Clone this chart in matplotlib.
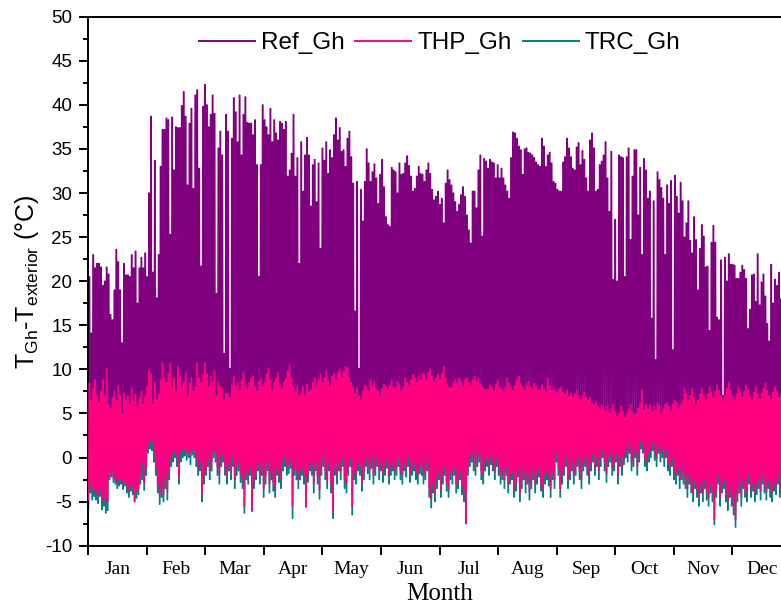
import numpy as np
import matplotlib
matplotlib.use("Agg")
import matplotlib.pyplot as plt
from matplotlib.lines import Line2D

plt.rcParams['font.family'] = ['Liberation Sans', 'DejaVu Sans']
plt.rcParams['mathtext.default'] = 'regular'
plt.rcParams['axes.unicode_minus'] = False

# daily maximum of T_Gh - T_exterior, reference greenhouse
ref_max = [
    20.5, 14.1, 23.0, 21.5, 22.0, 22.0, 21.6, 19.5, 20.0, 21.6,
    20.8, 16.2, 15.6, 19.0, 23.6, 22.2, 19.0, 13.0, 22.0, 20.7,
    20.7, 20.5, 23.0, 21.5, 23.4, 17.5, 21.5, 22.7, 21.5, 23.2,
    20.5, 30.0, 38.7, 21.0, 33.7, 18.1, 23.0, 33.0, 37.2, 37.2,
    38.5, 38.3, 25.3, 38.6, 32.6, 37.5, 37.4, 37.4, 39.9, 41.5,
    38.7, 30.9, 37.9, 39.6, 30.5, 41.1, 41.7, 32.8, 21.7, 39.8,
    42.3, 40.0, 37.5, 38.9, 41.1, 39.0, 18.6, 35.1, 37.0, 34.3,
    11.8, 38.9, 37.0,
    10.1, 36.2, 40.8, 39.2, 35.8, 41.1, 34.3, 38.9, 40.9, 38.0,
    37.9, 37.9, 36.6, 38.3, 33.2, 20.5, 33.2, 40.0, 38.3, 37.5,
    36.6, 39.6, 35.8, 38.3, 36.8, 36.0, 38.1, 37.9, 37.2, 38.1,
    31.9, 32.6, 34.5, 38.9, 31.9, 34.0, 22.0, 35.8, 30.2, 34.3,
    36.3, 34.3, 28.5, 33.2, 33.8, 29.0, 33.4, 23.7, 35.1, 33.7,
    35.8, 32.2, 34.9, 34.0, 36.6, 38.5, 36.0, 37.4, 34.7, 34.9,
    33.0, 36.2, 37.0, 34.1, 31.1, 16.6, 31.3, 10.1, 30.4, 26.8,
    31.3, 35.0, 33.4, 31.3, 32.4, 33.3, 31.7, 28.8, 32.1, 33.8,
    30.7, 27.3, 26.4, 26.2, 32.9, 32.6, 32.4, 30.0, 33.4, 32.1,
    32.2, 33.4, 34.2, 33.1, 31.9, 30.2, 30.5, 31.9, 33.0, 32.2,
    32.1, 31.3, 32.6, 33.4, 32.2, 30.4, 29.2, 29.6, 30.2, 28.7,
    29.4, 26.6, 31.1, 32.6, 31.5, 30.9, 30.0, 29.0, 27.9, 28.7,
    29.8, 30.7, 29.6, 27.5, 25.8, 24.3, 30.2, 30.2, 28.3, 32.6,
    34.3, 25.1, 33.9, 33.6, 32.8, 33.8, 33.5, 33.4, 31.7, 33.2,
    31.7, 32.8,
    31.7, 30.9, 30.2, 29.4, 34.0, 36.9, 36.8, 36.2, 35.3, 34.9,
    32.1, 35.0, 35.1, 34.6, 34.5, 34.3, 34.0, 33.5, 33.2, 33.0,
    36.2, 35.3, 33.0, 34.3, 34.6, 33.4, 31.3, 31.1, 30.4, 30.2,
    30.2, 33.5, 34.1, 36.2, 35.1, 34.1, 32.8, 32.6, 35.2, 35.7,
    33.2, 34.8, 33.8, 31.7, 30.2, 36.0, 36.8, 35.1, 30.2, 30.4,
    33.2, 33.6, 34.3, 35.8, 31.7, 27.9, 34.7, 20.2, 27.0, 20.0,
    34.3, 34.1, 34.0, 20.5, 34.1, 35.1, 24.7, 31.9, 34.9, 34.9,
    27.5,
    32.9, 23.0, 33.9, 32.6, 29.4, 30.2, 15.8, 29.1, 11.1, 32.4,
    31.5, 30.6, 29.4, 23.0, 30.9, 28.8, 31.4, 12.2, 32.0, 29.6,
    27.7, 31.2, 29.1, 25.0, 26.6, 29.1, 24.6, 23.2, 27.3, 24.7,
    19.0, 23.7, 26.4, 25.1, 21.6, 21.7, 14.4, 24.4, 26.3, 24.4,
    15.9, 15.6, 22.4, 7.0, 22.7, 20.0, 23.1, 21.9, 21.9, 21.8,
    20.3, 20.3, 21.0, 21.8, 21.3, 20.3, 14.6, 16.8, 20.7, 20.8,
    17.7, 23.1, 17.3, 19.9, 20.8, 18.3, 15.2, 13.2, 21.9, 17.5,
    20.2,
    19.5, 21.0, 18.0, 20.5, 16.0, 19.0, 21.0, 18.5,
]

# daily maximum, greenhouse with heat pump
thp_max = [
    8.4, 6.5, 7.8, 8.8, 7.0, 6.2, 7.5, 8.8, 7.0, 10.1,
    6.0, 5.5, 6.8, 7.5, 6.5, 8.2, 7.0, 5.0, 7.3, 6.5,
    7.0, 6.0, 7.9, 6.4, 7.2, 5.5, 6.8, 7.5, 6.0, 7.0,
    8.0, 9.9, 9.5, 6.0, 8.5, 6.5, 7.2, 8.8, 10.7, 9.0,
    8.5, 9.5, 10.7, 8.0, 9.0, 7.5, 10.3, 9.2, 8.0, 8.5,
    9.6, 7.0, 8.4, 9.0, 7.5, 8.0, 10.7, 9.0, 8.5, 9.4,
    10.7, 9.5, 8.0, 9.2, 8.5, 9.8, 7.0, 8.5, 8.0, 7.8,
    6.5, 7.3, 7.3, 6.8, 8.2, 9.2, 8.0, 8.5, 7.5, 8.8,
    9.6, 8.2, 7.8, 8.5, 9.0, 9.2, 8.0, 7.5, 8.6, 9.0,
    8.0, 8.5, 9.4, 10.1, 8.8, 7.6, 8.5, 9.0, 9.6, 8.2,
    7.8, 8.6, 9.0, 9.8, 10.5, 9.0, 8.0, 7.5, 8.2, 7.0,
    7.3, 8.0, 7.0, 8.3, 7.5, 7.7, 8.5, 9.0, 8.2, 8.8,
    9.4, 8.5, 9.0, 9.8, 8.6, 8.0, 9.2, 9.5, 8.8, 9.6,
    10.0, 9.0, 9.8, 10.3, 10.2, 9.0, 8.5, 8.0, 7.2, 7.9,
    7.0, 6.5, 7.5, 8.2, 8.0, 7.5, 8.8, 8.0, 8.6, 7.8,
    7.5, 6.9, 7.8, 8.3, 8.0, 7.6, 8.2, 8.8, 8.0, 7.9,
    8.6, 8.2, 7.5, 8.0, 9.0, 8.5, 8.0, 8.8, 9.4, 9.0,
    8.5, 9.2, 8.8, 9.6, 9.4, 8.8, 9.6, 10.0, 9.2, 8.6,
    9.0, 9.4, 8.8, 9.5, 10.3, 9.0, 8.2, 7.9, 7.9, 8.5,
    8.8, 8.4, 9.0, 8.6, 8.0, 8.8, 9.0, 8.5, 8.2, 8.8,
    9.2, 8.6, 9.0, 8.4, 8.0, 7.8, 7.7, 7.7, 8.2, 8.0,
    7.5, 8.3, 8.8, 8.0, 7.8, 7.5, 8.0, 9.0, 8.4, 8.0,
    7.6, 8.2, 8.8, 9.2, 8.4, 8.0, 7.6, 8.2, 8.6, 8.0,
    7.8, 8.4, 8.0, 7.6, 7.7, 8.2, 7.8, 7.4, 9.0, 8.2,
    7.6, 8.0, 7.5, 7.3, 7.8, 8.0, 7.4, 7.2, 7.6, 7.0,
    7.3, 6.8, 7.2, 7.6, 7.0, 6.6, 7.0, 7.4, 6.8, 6.5,
    6.8, 6.2, 6.0, 6.4, 5.8, 5.5, 6.0, 5.6, 5.2, 5.8,
    5.0, 5.5, 6.0, 5.2, 4.6, 5.0, 5.8, 5.2, 4.5, 5.0,
    5.5, 6.0, 5.2, 4.8, 5.0, 5.6, 6.2, 7.7, 5.4, 6.0,
    5.5, 6.0, 5.2, 5.8, 5.4, 6.2, 5.8, 5.0, 5.5, 6.0,
    6.2, 5.8, 5.2, 6.0, 6.5, 6.2, 5.5, 6.0, 6.4, 7.9,
    7.2, 6.5, 7.0, 7.8, 6.8, 6.0, 6.5, 7.2, 7.8, 7.0,
    6.5, 7.2, 8.0, 7.4, 6.8, 7.5, 8.2, 7.6, 7.0, 6.4,
    7.0, 7.8, 8.5, 7.6, 7.0, 6.5, 7.2, 8.0, 7.4, 6.8,
    7.5, 8.2, 7.6, 7.0, 6.5, 7.4, 8.0, 7.2, 6.6, 7.3,
    7.8, 8.4, 7.6, 7.0, 6.6, 7.4, 8.0, 7.5, 6.8, 7.2,
    7.6, 8.0, 7.2, 6.8, 7.4,
]

# daily minimum, greenhouse with heat pump
thp_min = [
    -4.8, -3.0, -3.8, -3.5, -4.0, -4.2, -3.5, -5.0, -4.5, -5.0,
    -5.0, -2.0, -1.8, -2.2, -2.5, -2.8, -2.5, -2.5, -3.0, -2.6,
    -3.2, -3.8, -3.0, -3.5, -5.0, -3.8, -3.5, -2.2, -0.5, -2.8,
    -1.0, 1.5, 2.0, 1.8, 0.5, -1.0, -3.0, -4.2, -3.5, -4.2,
    -2.5, -3.8, -1.5, -0.2, 0.5, 0.8, 0.0, -2.2, 0.5, 1.0,
    1.0, 0.5, 0.8, 0.2, 1.0, 0.8, 0.0, -1.2, -0.5, -4.0,
    -2.0, -1.2, 0.0, -1.5, -0.5, 0.8, 0.5, -1.0, -2.0, 0.0,
    0.5, -1.0, -2.0, -0.5, -1.5, 0.0, -2.5, -1.0, -0.5, -1.8,
    -2.5, -5.5, -1.5, -2.0, -1.0, -6.0, -2.5, -1.5, -0.5, -2.0,
    -1.0, -3.5, -2.0, -0.5, -3.0, -1.5, -2.8, -3.5, -1.0, -1.8,
    -2.5, -0.5, 0.0, -1.0, -0.8, -0.2, -5.5, -1.0, -1.5, -2.5,
    -1.5, -1.0, -2.0, -5.6, -1.8, -0.5, -1.0, -3.0, -0.5, -2.0,
    -3.7, -1.0, 0.0, -1.5, -2.5, -0.5, -3.0, -6.0, -1.0, -2.0,
    -0.5, -1.5, 0.0, -2.5, -3.0, -1.0, 0.0, -5.5, -1.5, -2.0,
    -0.5, -1.0, -2.8, -1.5, 0.0, -0.8, -1.5, -0.2, -2.0, -1.0,
    0.0, -1.5, -0.5, -1.8, -1.0, -0.2, -2.0, -1.0, -0.5, -1.5,
    -1.0, 0.0, -1.5, -2.0, -0.5, -1.2, 0.0, -1.8, -1.0, -0.5,
    -1.5, -2.0, -0.8, -1.0, -2.0, -1.5, -0.5, -3.5, -4.7, -3.0,
    -4.0, -2.5, -1.5, -3.5, -2.0, -1.0, -2.8, -3.5, -1.5, -2.0,
    -1.0, -3.0, -2.5, -1.5, -3.2, -4.0, -7.5, -1.0, 0.0, 0.5,
    -0.5, -1.0, 0.0, 0.5, -1.5, -2.0, -0.5, 0.0, -1.0, 0.2,
    -0.5, -1.5, 0.0, -1.0, -2.0, -1.5, -2.5, -1.0, -3.0, -2.0,
    -1.5, -3.5, -2.8, -1.2, -4.0, -2.5, -1.5, -3.0, -2.0, -3.8,
    -2.5, -1.5, -3.0, -2.0, -1.2, -2.8, -3.5, -2.0, -1.5, -2.2,
    -3.5, -1.5, -2.5, 0.5, -1.0, -3.5, -2.0, -1.0, 0.0, -2.5,
    -1.5, -0.5, -2.0, -1.0, 0.0, -1.5, -2.5, -0.5, 0.0, -1.0,
    -2.0, -0.5, 0.5, -1.0, 0.0, -1.5, 0.0, 1.0, -0.5, -1.8,
    0.0, 0.5, -1.0, -0.5, 0.5, -2.0, 0.0, -1.0, 0.2, 1.0,
    0.5, 1.5, -0.5, 0.0, 1.0, -1.0, 0.5, 2.0, 1.5, 0.0,
    -0.5, 0.5, 1.0, 1.8, 0.7, 0.0, 1.5, 0.5, 1.0, 0.0,
    1.0, -0.5, -1.0, 0.0, -1.5, -2.0, -1.0, -2.5, -1.5, -2.0,
    -2.5, -3.5, -2.0, -3.0, -4.0, -2.5, -3.5, -4.5, -3.0, -4.0,
    -2.5, -3.8, -4.5, -3.0, -4.0, -7.0, -3.5, -2.0, -4.5, -3.0,
    -2.5, -4.0, -5.0, -3.5, -4.5, -5.5, -7.0, -4.0, -3.0, -4.5,
    -2.5, -3.5, -4.0, -2.0, -3.5, -2.8, -4.0, -3.2, -2.5, -3.8,
    -2.0, -3.0, -3.8, -2.5, -3.5, -4.0, -2.8, -3.2, -2.0, -3.5,
    -3.0, -2.5, -3.5, -2.8, -3.2,
]

# daily minimum, greenhouse with thermal radiant cooling
trc_min = [
    -5.9, -4.0, -4.8, -4.4, -4.8, -5.2, -4.4, -5.9, -5.5, -6.3,
    -6.0, -2.5, -2.2, -2.8, -3.0, -3.5, -3.2, -3.0, -3.6, -3.2,
    -4.0, -4.5, -3.8, -4.2, -5.0, -4.6, -4.2, -3.0, -2.5, -3.7,
    -2.0, 0.5, 1.0, 0.8, -0.5, -2.0, -4.0, -5.3, -4.5, -5.0,
    -3.5, -4.8, -2.5, -1.0, -0.5, 0.0, -1.0, -3.0, -0.5, 0.0,
    0.2, -0.3, 0.0, -0.8, 0.3, 0.0, -1.0, -2.0, -1.5, -5.0,
    -3.0, -2.0, -1.0, -2.5, -1.5, 0.0, -0.5, -2.0, -3.0, -1.0,
    -0.5, -2.0, -3.0, -1.5, -2.5, -1.0, -3.5, -2.0, -1.5, -2.8,
    -3.5, -6.3, -2.5, -3.0, -2.0, -6.1, -3.5, -2.5, -1.5, -3.0,
    -2.0, -4.5, -3.0, -1.5, -4.0, -2.5, -3.8, -4.5, -2.0, -2.8,
    -3.5, -1.5, -1.0, -2.0, -1.8, -1.2, -6.9, -2.0, -2.5, -3.5,
    -2.5, -2.0, -3.0, -5.6, -2.8, -1.5, -2.0, -4.0, -1.5, -3.0,
    -4.7, -2.0, -1.0, -2.5, -3.5, -1.5, -4.0, -6.9, -2.0, -3.0,
    -1.5, -2.5, -1.0, -3.5, -4.0, -2.0, -1.0, -6.5, -2.5, -3.0,
    -1.5, -2.0, -3.8, -2.5, -1.0, -1.8, -2.5, -1.2, -3.0, -2.0,
    -1.0, -2.5, -1.5, -2.8, -2.0, -1.2, -3.0, -2.0, -1.5, -2.5,
    -2.0, -1.0, -2.5, -3.0, -1.5, -2.2, -1.0, -2.8, -2.0, -1.5,
    -2.5, -3.0, -1.8, -2.0, -3.0, -2.5, -1.5, -4.5, -5.7, -4.0,
    -5.0, -3.5, -2.5, -4.5, -3.0, -2.0, -3.8, -4.5, -2.5, -3.0,
    -2.0, -4.0, -3.5, -2.5, -4.2, -5.0, -7.5, -2.0, -1.0, -0.5,
    -1.5, -2.0, -1.0, -0.5, -2.5, -3.0, -1.5, -1.0, -2.0, -0.8,
    -1.5, -2.5, -1.0, -2.0, -3.0, -2.5, -3.5, -2.0, -4.0, -3.0,
    -2.5, -4.5, -3.8, -2.2, -5.0, -3.5, -2.5, -4.0, -3.0, -4.8,
    -3.5, -2.5, -4.0, -3.0, -2.2, -3.8, -4.5, -3.0, -2.5, -3.2,
    -4.5, -2.5, -3.5, -0.5, -2.0, -4.5, -3.0, -2.0, -1.0, -3.5,
    -2.5, -1.5, -3.0, -2.0, -1.0, -2.5, -3.5, -1.5, -1.0, -2.0,
    -3.0, -1.5, -0.5, -2.0, -1.0, -2.5, -1.0, 0.0, -1.5, -2.8,
    -1.0, -0.5, -2.0, -1.5, -0.5, -3.0, -1.0, -2.0, -0.8, 0.0,
    -0.5, 0.5, -1.5, -1.0, 0.0, -2.0, -0.5, 1.0, 0.5, -1.0,
    -1.5, -0.5, 0.0, 0.8, -0.3, -1.0, 0.5, -0.5, 0.0, -1.0,
    0.0, -1.5, -2.0, -1.0, -2.5, -3.0, -2.0, -3.5, -2.5, -3.0,
    -3.5, -4.5, -3.0, -4.0, -5.0, -3.5, -4.5, -5.5, -4.0, -5.0,
    -3.5, -4.8, -5.5, -4.0, -5.0, -7.6, -4.5, -3.0, -5.5, -4.0,
    -3.5, -5.0, -6.0, -4.5, -5.5, -6.5, -7.9, -5.0, -4.0, -5.5,
    -3.5, -4.5, -5.0, -3.0, -4.5, -3.8, -5.0, -4.2, -3.5, -4.8,
    -3.0, -4.0, -4.8, -3.5, -4.5, -5.0, -3.8, -4.2, -3.0, -4.5,
    -4.0, -3.5, -4.5, -3.8, -4.2,
]

# night-time lows of the reference and daytime highs of TRC lie under the
# THP band; only a monthly level is readable for them
month_days = [31, 28, 31, 30, 31, 30, 31, 31, 30, 31, 30, 31]
ref_min_month = [2.5, 1.5, 2.5, 2.8, 3.4, 3.6, 3.8, 3.5, 3.0, 2.2, 2.8, 3.0]
trc_max_month = [4.5, 5.5, 5.5, 6.0, 6.0, 6.0, 6.5, 6.0, 4.5, 3.8, 5.0, 5.0]
months = ['Jan', 'Feb', 'Mar', 'Apr', 'May', 'Jun',
          'Jul', 'Aug', 'Sep', 'Oct', 'Nov', 'Dec']

assert len(ref_max) == len(thp_max) == len(thp_min) == len(trc_min) == 365

ref_min = np.repeat(ref_min_month, month_days)
trc_max = np.repeat(trc_max_month, month_days)

# each day: night low held from 2 h to 8 h, daytime high from 13 h to 21 h
days = np.arange(365)
hours = (days[:, None] * 24 + np.array([2, 8, 13, 21])).ravel()


def daily(lo, hi):
    lo = np.asarray(lo)
    hi = np.asarray(hi)
    return np.column_stack([lo, lo, hi, hi]).ravel()


fig = plt.figure(figsize=(7.81, 6.08), dpi=100)
ax = fig.add_axes([88 / 781, 62.3 / 608, 703 / 781, 529 / 608])

c_ref, c_thp, c_trc = '#800080', '#ff0080', '#008080'
ax.plot(hours, daily(ref_min, ref_max), color=c_ref, lw=0.9, zorder=1)
ax.plot(hours, daily(trc_min, trc_max), color=c_trc, lw=0.9, zorder=2)
ax.plot(hours, daily(thp_min, thp_max), color=c_thp, lw=0.9, zorder=3)

ax.set_xlim(0, 8760)
ax.set_ylim(-10, 50)

for s in ax.spines.values():
    s.set_linewidth(1.4)

ax.set_yticks(np.arange(-10, 51, 5))
ax.set_yticks(np.arange(-10, 50, 2.5), minor=True)
ax.tick_params(axis='y', which='major', direction='out', length=6.5, width=1.4,
               labelsize=13.5, pad=5)
ax.tick_params(axis='y', which='minor', direction='out', length=3.5, width=1.4)

month_edges = np.arange(13) * 730
ax.set_xticks(month_edges)
ax.set_xticklabels([])
ax.set_xticks(month_edges[:-1] + 365, minor=True)
ax.set_xticklabels(months, minor=True, family='Liberation Serif', fontsize=14)
ax.tick_params(axis='x', which='major', direction='out', length=6.5, width=1.4)
ax.tick_params(axis='x', which='minor', length=0, pad=11)
ax.tick_params(right=False, top=False)

ax.set_xlabel('Month', family='Liberation Serif', fontsize=18, labelpad=3.5)
ax.set_ylabel('T$_{Gh}$-T$_{exterior}$ (°C)', fontsize=18, labelpad=3)

handles = [Line2D([], [], color=c_ref, lw=1.4),
           Line2D([], [], color=c_thp, lw=1.4),
           Line2D([], [], color=c_trc, lw=1.4)]
ax.legend(handles, ['Ref_Gh', 'THP_Gh', 'TRC_Gh'], loc='center',
          bbox_to_anchor=(0.5, 0.95), ncol=3, frameon=False, fontsize=17.5,
          handlelength=2.3, handletextpad=0.25, columnspacing=0.45)

fig.savefig('out.png', dpi=100)
